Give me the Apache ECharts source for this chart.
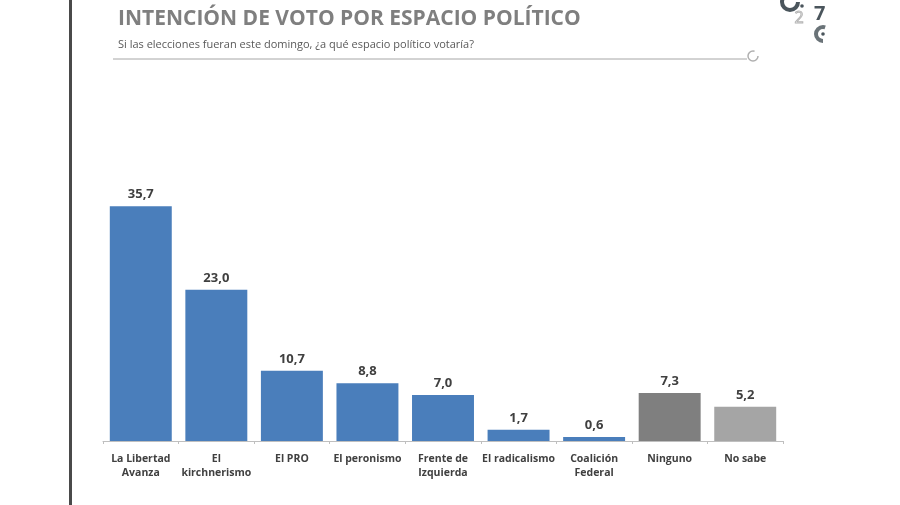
<!DOCTYPE html>
<html>
<head>
<meta charset="utf-8">
<script src="https://cdn.jsdelivr.net/npm/echarts@6/dist/echarts.min.js"></script>
<style>html,body{margin:0;padding:0;background:#fff;}#c{width:900px;height:505px;}</style>
</head>
<body>
<div id="c"></div>
<script>
var categories = ['La Libertad\nAvanza', 'El\nkirchnerismo', 'El PRO', 'El peronismo', 'Frente de\nIzquierda', 'El radicalismo', 'Coalición\nFederal', 'Ninguno', 'No sabe'];
var values = [35.7, 23.0, 10.7, 8.8, 7.0, 1.7, 0.6, 7.3, 5.2];
var barColors = ['#4a7ebb', '#4a7ebb', '#4a7ebb', '#4a7ebb', '#4a7ebb', '#4a7ebb', '#4a7ebb', '#7f7f7f', '#a5a5a5'];
var titleText = 'INTENCIÓN DE VOTO POR ESPACIO POLÍTICO';
var subtitleText = 'Si las elecciones fueran este domingo, ¿a qué espacio político votaría?';

var chart = echarts.init(document.getElementById('c'), null, {renderer: 'canvas'});
chart.setOption({
  backgroundColor: '#ffffff',
  animation: false,
  title: {
    text: titleText,
    subtext: subtitleText,
    left: 113,
    top: 4,
    itemGap: 9,
    textStyle: {fontFamily: 'Open Sans', fontWeight: 'bold', fontSize: 21, color: '#7f7f7f'},
    subtextStyle: {fontFamily: 'Open Sans', fontSize: 11, color: '#595959'}
  },
  graphic: [
    {type: 'rect', left: 69, top: 0, shape: {width: 3, height: 505}, style: {fill: '#4a4a4a'}},
    {type: 'line', shape: {x1: 113, y1: 59, x2: 747, y2: 59}, style: {stroke: '#a6a6a6', lineWidth: 1}},
    {type: 'arc', shape: {cx: 753, cy: 56, r: 5, startAngle: 0, endAngle: Math.PI * 1.6}, style: {stroke: '#b0b0b0', lineWidth: 1.5, fill: null}},
    {type: 'arc', shape: {cx: 790, cy: 2, r: 8, startAngle: 0, endAngle: Math.PI * 1.2}, style: {stroke: '#4a555c', lineWidth: 4, fill: null}},
    {type: 'circle', shape: {cx: 802, cy: 6, r: 1.8}, style: {fill: '#4a555c'}},
    {type: 'text', left: 794, top: 10, style: {text: '2', fontSize: 16, fontFamily: 'Open Sans', fill: 'none', stroke: '#b5b5b5', lineWidth: 1}},
    {type: 'text', left: 814, top: 4, style: {text: '7', fontSize: 20, fontWeight: 'bold', fontFamily: 'Open Sans', fill: '#4a555c'}},
    {type: 'arc', shape: {cx: 823, cy: 34, r: 7, startAngle: Math.PI * 0.5, endAngle: Math.PI * 1.6}, style: {stroke: '#6a7378', lineWidth: 4, fill: null}},
    {type: 'circle', shape: {cx: 823, cy: 34, r: 1.8}, style: {fill: '#4a555c'}}
  ],
  grid: {left: 103, right: 117, top: 178, bottom: 64},
  xAxis: {
    type: 'category',
    data: categories,
    axisLine: {lineStyle: {color: '#bfbfbf', width: 1}},
    axisTick: {show: true, length: 3, lineStyle: {color: '#bfbfbf'}},
    axisLabel: {interval: 0, margin: 11, fontFamily: 'Open Sans', fontWeight: 'bold', fontSize: 10.5, color: '#404040', lineHeight: 14}
  },
  yAxis: {type: 'value', min: 0, max: 40, show: false, splitLine: {show: false}},
  series: [{
    type: 'bar',
    barCategoryGap: '18%',
    data: values.map(function (v, i) { return {value: v, itemStyle: {color: barColors[i]}}; }),
    label: {
      show: true,
      position: 'top',
      distance: 5,
      fontFamily: 'Open Sans',
      fontWeight: 'bold',
      fontSize: 13,
      color: '#404040',
      formatter: function (p) { return p.value.toFixed(1).replace('.', ','); }
    }
  }]
});
</script>
</body>
</html>
